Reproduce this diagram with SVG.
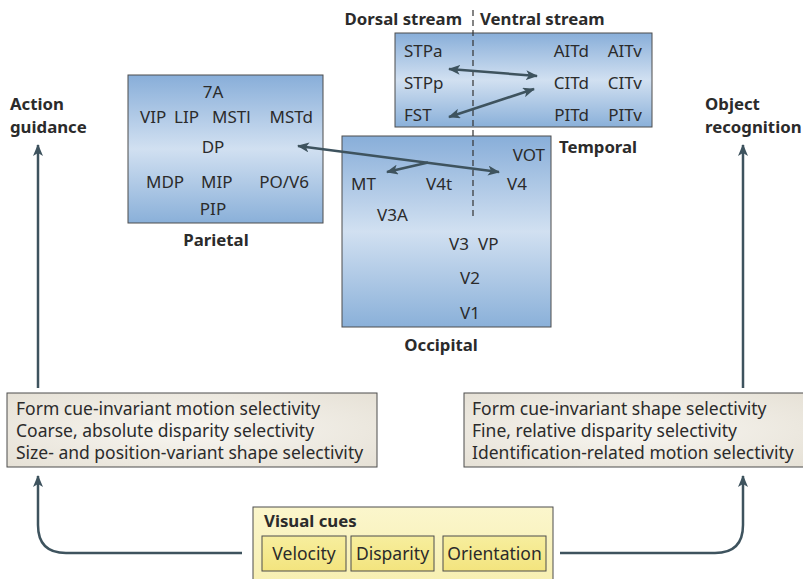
<svg xmlns="http://www.w3.org/2000/svg" width="803" height="579" viewBox="0 0 803 579">
<defs>
<linearGradient id="blue" x1="0" y1="0" x2="0" y2="1">
<stop offset="0" stop-color="#88aed9"/>
<stop offset="0.5" stop-color="#d1e0f1"/>
<stop offset="1" stop-color="#8ab0d9"/>
</linearGradient>
<radialGradient id="beige" cx="0.5" cy="0.5" r="0.7">
<stop offset="0" stop-color="#f8f6f1"/>
<stop offset="1" stop-color="#e6e1d6"/>
</radialGradient>
<linearGradient id="yellow" x1="0" y1="0" x2="0" y2="1">
<stop offset="0" stop-color="#fbf6cc"/>
<stop offset="1" stop-color="#f7efb0"/>
</linearGradient>
<linearGradient id="cue" x1="0" y1="0" x2="0" y2="1">
<stop offset="0" stop-color="#f7ee9e"/>
<stop offset="1" stop-color="#f3e47e"/>
</linearGradient>
<marker id="ah" viewBox="0 0 12 10" refX="11" refY="5" markerWidth="12" markerHeight="10" markerUnits="userSpaceOnUse" orient="auto-start-reverse">
<path d="M0,0 L12,5 L0,10 L3,5 Z" fill="#3e535e"/>
</marker>
</defs>
<style>
text{font-family:"Noto Sans","Open Sans","Liberation Sans",sans-serif;fill:#2b2b2b;}
.lab{font-size:17px;}
.body{font-size:17.5px;}
.ttl{font-size:16.8px;font-weight:bold;}
.box{stroke:#4d4d4d;stroke-width:1;}
.conn{fill:none;stroke:#3e535e;stroke-width:2.5;}
.dash{stroke:#333;stroke-width:1.2;stroke-dasharray:6,4;fill:none;}
</style>

<g id="temporal">
<rect class="box" x="395" y="33" width="257" height="94" fill="url(#blue)"/>
<text class="lab" x="404" y="57">STPa</text>
<text class="lab" x="404" y="89">STPp</text>
<text class="lab" x="404" y="121">FST</text>
<text class="lab" x="589" y="57" text-anchor="end">AITd</text>
<text class="lab" x="642" y="57" text-anchor="end">AITv</text>
<text class="lab" x="589" y="89" text-anchor="end">CITd</text>
<text class="lab" x="642" y="89" text-anchor="end">CITv</text>
<text class="lab" x="589" y="121" text-anchor="end">PITd</text>
<text class="lab" x="642" y="121" text-anchor="end">PITv</text>
<text class="ttl" x="598" y="153" text-anchor="middle">Temporal</text>
</g>

<g id="parietal">
<rect class="box" x="128" y="75" width="195" height="148" fill="url(#blue)"/>
<text class="lab" x="213" y="98" text-anchor="middle">7A</text>
<text class="lab" x="140" y="123">VIP</text>
<text class="lab" x="174" y="123">LIP</text>
<text class="lab" x="212" y="123">MSTl</text>
<text class="lab" x="313" y="123" text-anchor="end">MSTd</text>
<text class="lab" x="213" y="153" text-anchor="middle">DP</text>
<text class="lab" x="146" y="188">MDP</text>
<text class="lab" x="201" y="188">MIP</text>
<text class="lab" x="309" y="188" text-anchor="end">PO/V6</text>
<text class="lab" x="213" y="215" text-anchor="middle">PIP</text>
<text class="ttl" x="216" y="246" text-anchor="middle">Parietal</text>
</g>

<g id="occipital">
<rect class="box" x="342" y="136" width="209" height="191" fill="url(#blue)"/>
<text class="lab" x="545" y="161" text-anchor="end">VOT</text>
<text class="lab" x="351" y="190">MT</text>
<text class="lab" x="426" y="190">V4t</text>
<text class="lab" x="507" y="190">V4</text>
<text class="lab" x="377" y="221">V3A</text>
<text class="lab" x="449" y="250">V3</text>
<text class="lab" x="478" y="250">VP</text>
<text class="lab" x="470" y="284" text-anchor="middle">V2</text>
<text class="lab" x="470" y="319" text-anchor="middle">V1</text>
<text class="ttl" x="441" y="351" text-anchor="middle">Occipital</text>
</g>

<g id="streams">
<text class="ttl" x="462" y="25" text-anchor="end">Dorsal stream</text>
<text class="ttl" x="480" y="25">Ventral stream</text>
<line class="dash" x1="473" y1="10" x2="473" y2="218"/>
</g>

<g id="action">
<text class="ttl" x="10" y="110">Action</text>
<text class="ttl" x="10" y="133">guidance</text>
</g>

<g id="object">
<text class="ttl" x="705" y="110">Object</text>
<text class="ttl" x="705" y="133">recognition</text>
</g>

<g id="dorsal-props">
<rect class="box" x="7" y="393" width="370" height="74" fill="url(#beige)"/>
<text class="body" x="16" y="415">Form cue-invariant motion selectivity</text>
<text class="body" x="16" y="437">Coarse, absolute disparity selectivity</text>
<text class="body" x="16" y="459">Size- and position-variant shape selectivity</text>
</g>

<g id="ventral-props">
<rect class="box" x="464" y="393" width="345" height="74" fill="url(#beige)"/>
<text class="body" x="472" y="415">Form cue-invariant shape selectivity</text>
<text class="body" x="472" y="437">Fine, relative disparity selectivity</text>
<text class="body" x="472" y="459">Identification-related motion selectivity</text>
</g>

<g id="visual-cues">
<rect class="box" x="253" y="507" width="300" height="80" fill="url(#yellow)"/>
<text class="ttl" x="264" y="527">Visual cues</text>
<rect class="box" x="262" y="536" width="84" height="35" fill="url(#cue)"/>
<text class="body" x="304" y="560" text-anchor="middle">Velocity</text>
<rect class="box" x="351" y="536" width="83" height="35" fill="url(#cue)"/>
<text class="body" x="392.5" y="560" text-anchor="middle">Disparity</text>
<rect class="box" x="443" y="536" width="103" height="35" fill="url(#cue)"/>
<text class="body" x="494.5" y="560" text-anchor="middle">Orientation</text>
</g>

<g id="connectors">
<line class="conn" x1="449" y1="69" x2="537" y2="76" marker-start="url(#ah)" marker-end="url(#ah)"/>
<line class="conn" x1="449" y1="117" x2="534" y2="89" marker-start="url(#ah)" marker-end="url(#ah)"/>
<line class="conn" x1="298" y1="146" x2="499" y2="172" marker-start="url(#ah)" marker-end="url(#ah)"/>
<line class="conn" x1="428" y1="162.5" x2="387" y2="172" marker-end="url(#ah)"/>
<line class="conn" x1="38" y1="388" x2="38" y2="145" marker-end="url(#ah)"/>
<line class="conn" x1="743" y1="388" x2="743" y2="145" marker-end="url(#ah)"/>
<path class="conn" d="M242,553 L66,553 Q38,553 38,525 L38,476" marker-end="url(#ah)"/>
<path class="conn" d="M560,553 L715,553 Q743,553 743,525 L743,476" marker-end="url(#ah)"/>
</g>
</svg>
